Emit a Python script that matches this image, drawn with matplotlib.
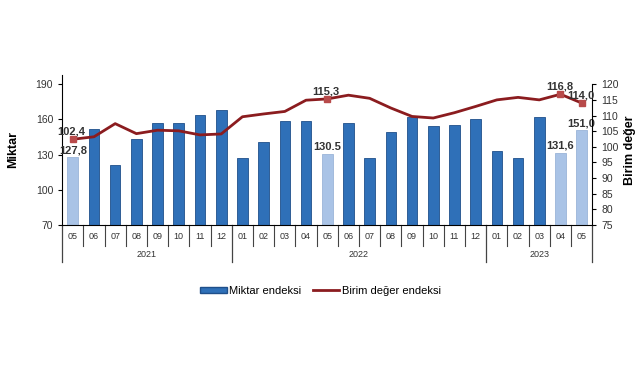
import matplotlib.pyplot as plt
from matplotlib.patches import Patch
from matplotlib.transforms import blended_transform_factory

plt.rcParams['font.family'] = ['Liberation Sans', 'DejaVu Sans']

aylar = ['05', '06', '07', '08', '09', '10', '11', '12',
         '01', '02', '03', '04', '05', '06', '07', '08', '09', '10', '11', '12',
         '01', '02', '03', '04', '05']
yillar = ['2021', '2022', '2023']
miktar = [127.8, 152, 121, 143, 157, 157, 164, 168,
          127, 141, 159, 159, 130.5, 157, 127, 149, 162, 154, 155, 160,
          133, 127, 162, 131.6, 151.0]
birim_deger = [102.4, 103.2, 107.4, 104.2, 105.3, 105.1, 103.8, 104.1,
               109.6, 110.5, 111.3, 114.9, 115.3, 116.5, 115.5, 112.4, 109.7, 109.2, 110.9, 112.9,
               115.0, 115.8, 115.0, 116.8, 114.0]
acik_renk = [0, 12, 23, 24]          # soluk gösterilen çubuklar
miktar_etiket = {0: '127,8', 12: '130.5', 23: '131,6', 24: '151,0'}
birim_etiket = {0: '102,4', 12: '115,3', 23: '116,8', 24: '114,0'}

koyu_mavi = '#2f70b8'
acik_mavi = '#a9c3e6'
bordo = '#8b1c1f'

fig = plt.figure(figsize=(6.41, 3.80), dpi=100)
ax = fig.add_axes([0.097, 0.408, 0.827, 0.395])
ax2 = ax.twinx()

x = list(range(len(aylar)))
renkler = [acik_mavi if i in acik_renk else koyu_mavi for i in x]
ax.bar(x, [m - 70 for m in miktar], bottom=70, width=0.5, color=renkler,
       edgecolor=['#9ab4d8' if i in acik_renk else '#1f4f8a' for i in x], linewidth=0.6,
       zorder=2)

ax2.plot(x, birim_deger, color=bordo, linewidth=2, zorder=3)
isaretli = list(birim_etiket.keys())
ax2.plot(isaretli, [birim_deger[i] for i in isaretli], 's', color='#b84a4a',
         markersize=5, zorder=4)

for i, t in miktar_etiket.items():
    ax.text(i, miktar[i] + 1.5, t, ha='center', va='bottom', fontsize=8,
            fontweight='bold', color='#333333', zorder=5)
for i, t in birim_etiket.items():
    ax2.text(i - 0.05, birim_deger[i] + 0.9, t, ha='center', va='bottom', fontsize=8,
             fontweight='bold', color='#333333', zorder=5)

ax.set_xlim(-0.5, len(aylar) - 0.5)
ax.set_ylim(70, 198)
ax.set_yticks([70, 100, 130, 160, 190])
ax2.set_ylim(75, 75 + 45 * 128 / 120)
ax2.set_yticks(list(range(75, 121, 5)))
ax.set_xticks([])

for a in (ax, ax2):
    a.spines['top'].set_visible(False)
    a.tick_params(axis='y', labelsize=7.5, labelcolor='#333333', length=3, width=0.8)
ax.spines['right'].set_visible(False)
ax2.spines['left'].set_visible(False)
ax2.spines['right'].set_bounds(75, 120)
ax2.spines['bottom'].set_visible(False)

# iki seviyeli kategori ekseni
tr = blended_transform_factory(ax.transData, ax.transAxes)
for i, ay in enumerate(aylar):
    ax.text(i, -0.075, ay, transform=tr, ha='center', va='center', fontsize=6.5, color='#333333')
for i in range(1, len(aylar)):
    if i in (8, 20):
        continue
    ax.plot([i - 0.5, i - 0.5], [0, -0.14], transform=tr, color='#444444', lw=0.8, clip_on=False)
for sx in (-0.5, 7.5, 19.5, 24.5):
    ax.plot([sx, sx], [0, -0.25], transform=tr, color='#444444', lw=0.9, clip_on=False)
for xm, yil in zip([3.5, 13.5, 22], yillar):
    ax.text(xm, -0.2, yil, transform=tr, ha='center', va='center', fontsize=6.5, color='#333333')

ax.set_ylabel('Miktar', fontsize=9, fontweight='bold', labelpad=12)
ax2.set_ylabel('Birim değer', fontsize=9, fontweight='bold', labelpad=4)

tutamaklar = [Patch(facecolor=koyu_mavi, edgecolor='#1f4f8a'),
              plt.Line2D([0], [0], color=bordo, lw=2)]
fig.legend(tutamaklar, ['Miktar endeksi', 'Birim değer endeksi'], loc='center',
           bbox_to_anchor=(0.5, 0.235), ncol=2, frameon=False, fontsize=8,
           handlelength=2.4, handleheight=0.5, columnspacing=1.0, handletextpad=0.2)

fig.savefig('out.png', dpi=100)
